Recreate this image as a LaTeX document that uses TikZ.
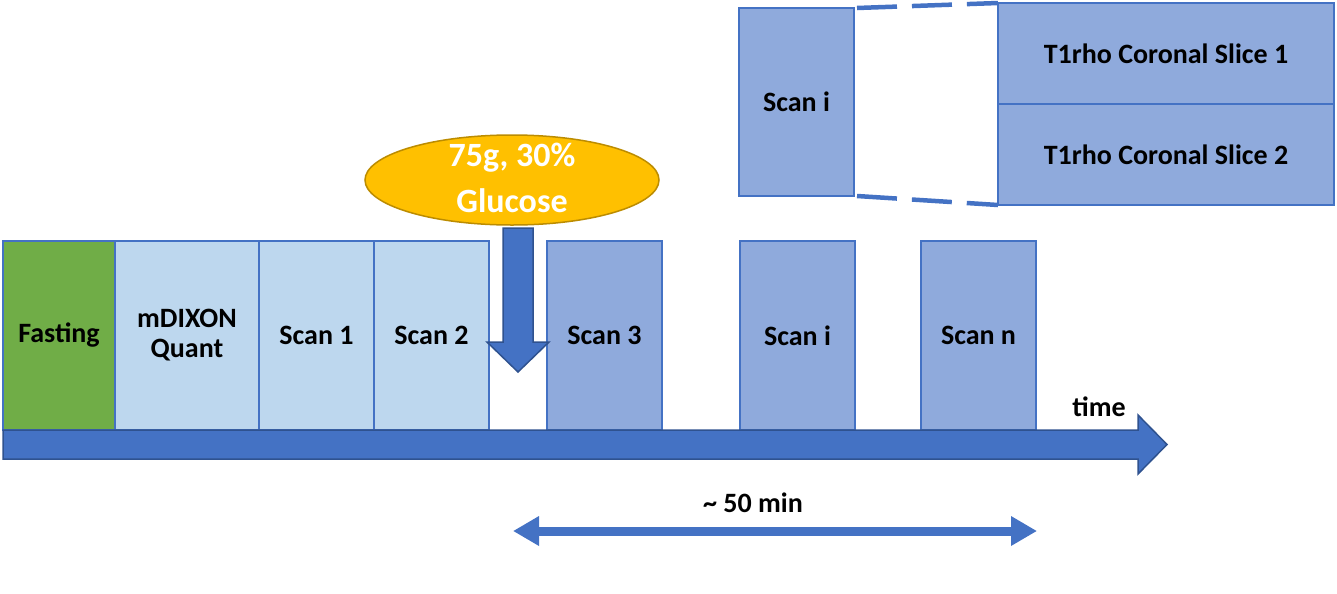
\documentclass[tikz,border=0pt]{standalone}
\usepackage{fontspec}
\setmainfont{Carlito}
\usetikzlibrary{shapes.geometric, arrows.meta, positioning}

\definecolor{fastgreen}{HTML}{70AD47}
\definecolor{prelight}{HTML}{BDD7EE}
\definecolor{postmid}{HTML}{8FAADC}
\definecolor{barblue}{HTML}{4472C4}
\definecolor{bardark}{HTML}{2F528F}
\definecolor{gold}{HTML}{FFC000}
\definecolor{golddark}{HTML}{BC8C00}

% un pixel del riferimento
\def\px{0.75pt}

\tikzset{
  scanbox/.style={draw=barblue, line width=1.5*\px, inner sep=0pt, outer sep=0pt,
    minimum width=115*\px, minimum height=189*\px, align=center,
    font=\fontsize{21}{22.5}\selectfont\bfseries},
  slicebox/.style={scanbox, fill=postmid, minimum width=336*\px, minimum height=101*\px},
  labeltext/.style={inner sep=0pt, font=\fontsize{21}{22.5}\selectfont\bfseries},
  zoomline/.style={draw=barblue, line width=4.5*\px, dash pattern=on 40*\px off 15*\px},
  spanarrow/.style={draw=barblue, line width=9*\px,
    {Triangle[length=26*\px, width=28*\px]}-{Triangle[length=26*\px, width=28*\px]}}
}

\begin{document}
\begin{tikzpicture}[>=latex, x=\px, y=-\px]
	\useasboundingbox (0,0) rectangle (1337,593);
	
	% --- Blocchi prima del glucosio ---
	\node[scanbox, fill=fastgreen, minimum width=112*\px, anchor=north west] (fasting) at (3,241) {Fasting};
	\node[scanbox, fill=prelight, minimum width=144*\px, right=0pt of fasting] (mdixon) {mDIXON\\Quant};
	\node[scanbox, fill=prelight, right=0pt of mdixon] (scanA) {Scan 1};
	\node[scanbox, fill=prelight, right=0pt of scanA] (scanB) {Scan 2};
	
	% --- Blocchi dopo il glucosio ---
	\node[scanbox, fill=postmid, anchor=north west] (scanC) at (547,241) {Scan 3};
	\node[scanbox, fill=postmid, anchor=north west] (scanI) at (740,241) {Scan i};
	\node[scanbox, fill=postmid, anchor=north west] (scanN) at (921,241) {Scan n};
	
	% --- Asse del tempo ---
	\draw[fill=barblue, draw=bardark, line width=1.5*\px]
	(3,430) -- (1138,430) -- (1138,415) -- (1167,444.5) -- (1138,474) -- (1138,459) -- (3,459) -- cycle;
	\node[labeltext] (timelbl) at (1099,407) {time};
	
	% --- Glucosio ---
	\node[ellipse, fill=gold, draw=golddark, line width=1.5*\px, inner sep=0pt,
	minimum width=294*\px, minimum height=90*\px] (glucose) at (512,180) {};
	\node[align=center, inner sep=0pt, text=white, font=\fontsize{25.5}{34}\selectfont\bfseries]
	(gluctext) at ([yshift=2*\px]glucose.center) {75g, 30\%\\Glucose};
	\draw[fill=barblue, draw=bardark, line width=1.5*\px]
	(503,228) -- (533,228) -- (533,342) -- (549,342) -- (518,372) -- (487,342) -- (503,342) -- cycle;
	
	% --- Dettaglio Scan i ---
	\node[scanbox, fill=postmid, minimum height=188*\px, anchor=north west] (zoomI) at (739,8) {Scan i};
	\node[slicebox, anchor=north west] (sliceA) at (998,3) {T1rho Coronal Slice 1};
	\node[slicebox, below=0pt of sliceA] (sliceB) {T1rho Coronal Slice 2};
	\draw[zoomline] ([xshift=3*\px]zoomI.north east) -- (sliceA.north west);
	\draw[zoomline] ([xshift=3*\px]zoomI.south east) -- (sliceB.south west);
	
	% --- Durata ---
	\coordinate (spanL) at (513,531);
	\coordinate (spanR) at (1037,531);
	\draw[spanarrow] (spanL) -- (spanR);
	\node[labeltext] (spanlbl) at (753,503) {\textasciitilde{} 50 min};
\end{tikzpicture}
\end{document}
